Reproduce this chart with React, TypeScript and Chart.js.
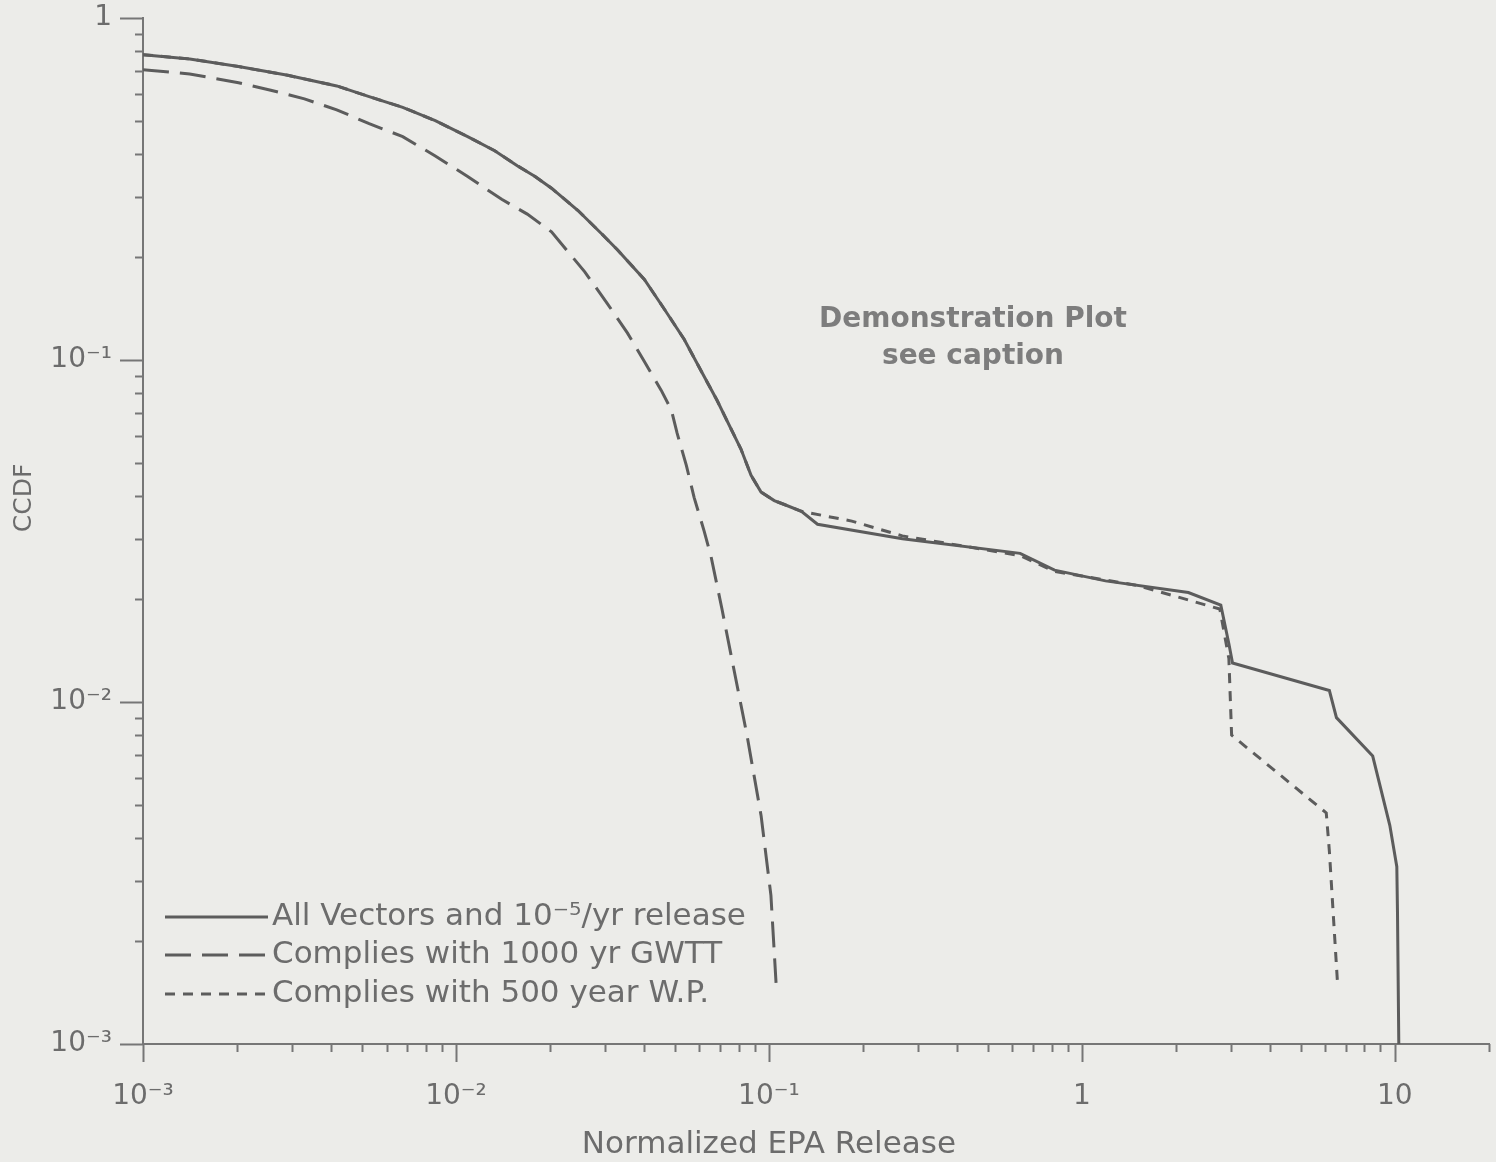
import React, { useEffect, useRef } from "react";
import { Chart, registerables } from "chart.js";

Chart.register(...registerables);

// ---- Data ----
const allVectorsX = [0.001, 0.00141, 0.00202, 0.0029, 0.00416, 0.00528, 0.00676, 0.00859, 0.0109, 0.0133, 0.0157, 0.0179, 0.0202, 0.0245, 0.0292, 0.0328, 0.04, 0.0463, 0.0536, 0.0607, 0.0682, 0.0814, 0.0877, 0.0944, 0.104, 0.112, 0.127, 0.143, 0.267, 0.635, 0.818, 1.19, 2.19, 2.78, 2.95, 3.03, 6.18, 6.51, 8.5, 9.64, 10.15, 10.2, 10.3];
const allVectorsY = [0.781, 0.759, 0.721, 0.68, 0.633, 0.589, 0.548, 0.501, 0.45, 0.409, 0.37, 0.344, 0.318, 0.274, 0.234, 0.21, 0.172, 0.141, 0.115, 0.093, 0.0764, 0.0549, 0.046, 0.0411, 0.0388, 0.0378, 0.0361, 0.0331, 0.03, 0.0272, 0.0243, 0.0226, 0.0209, 0.0192, 0.0148, 0.013, 0.0108, 0.009, 0.00695, 0.00436, 0.0033, 0.00243, 0.001];

const gwttX = [0.001, 0.00141, 0.00202, 0.00256, 0.00328, 0.00416, 0.00528, 0.00676, 0.00859, 0.0109, 0.014, 0.0169, 0.0202, 0.0258, 0.0305, 0.0353, 0.04, 0.0453, 0.0488, 0.0509, 0.0545, 0.0577, 0.0621, 0.0653, 0.0708, 0.0756, 0.0851, 0.0944, 0.1015, 0.1054];
const gwttY = [0.706, 0.686, 0.647, 0.615, 0.58, 0.539, 0.491, 0.45, 0.395, 0.344, 0.295, 0.267, 0.237, 0.181, 0.146, 0.12, 0.099, 0.0815, 0.0714, 0.0611, 0.0491, 0.0396, 0.0316, 0.0267, 0.0187, 0.0138, 0.008, 0.00466, 0.00272, 0.00151];

const wpX = [0.001, 0.00141, 0.00202, 0.0029, 0.00416, 0.00528, 0.00676, 0.00859, 0.0109, 0.0133, 0.0157, 0.0179, 0.0202, 0.0245, 0.0292, 0.0328, 0.04, 0.0463, 0.0536, 0.0607, 0.0682, 0.0814, 0.0877, 0.0944, 0.104, 0.112, 0.127, 0.184, 0.267, 0.635, 0.818, 1.51, 2.76, 2.95, 3.01, 6.04, 6.18, 6.56];
const wpY = [0.781, 0.759, 0.721, 0.68, 0.633, 0.589, 0.548, 0.501, 0.45, 0.409, 0.37, 0.344, 0.318, 0.274, 0.234, 0.21, 0.172, 0.141, 0.115, 0.093, 0.0764, 0.0549, 0.046, 0.0411, 0.0388, 0.0378, 0.0361, 0.0338, 0.0306, 0.0268, 0.0241, 0.0219, 0.0187, 0.0134, 0.008, 0.00474, 0.00366, 0.00151];

const seriesLabels = [
  "All Vectors and 10\u207B\u2075/yr release",
  "Complies with 1000 yr GWTT",
  "Complies with 500 year W.P.",
];

const xTickValues = [
  0.001, 0.002, 0.003, 0.004, 0.005, 0.006, 0.007, 0.008, 0.009,
  0.01, 0.02, 0.03, 0.04, 0.05, 0.06, 0.07, 0.08, 0.09,
  0.1, 0.2, 0.3, 0.4, 0.5, 0.6, 0.7, 0.8, 0.9,
  1, 2, 3, 4, 5, 6, 7, 8, 9,
  10, 20,
];
const xLabelValues = [0.001, 0.01, 0.1, 1, 10];
const xTickLabels = ["10\u207B\u00B3", "10\u207B\u00B2", "10\u207B\u00B9", "1", "10"];

const yTickValues = [
  0.001, 0.002, 0.003, 0.004, 0.005, 0.006, 0.007, 0.008, 0.009,
  0.01, 0.02, 0.03, 0.04, 0.05, 0.06, 0.07, 0.08, 0.09,
  0.1, 0.2, 0.3, 0.4, 0.5, 0.6, 0.7, 0.8, 0.9,
  1,
];
const yLabelValues = [0.001, 0.01, 0.1, 1];
const yTickLabels = ["10\u207B\u00B3", "10\u207B\u00B2", "10\u207B\u00B9", "1"];

const xTitle = "Normalized EPA Release";
const yTitle = "CCDF";
const noteLines = ["Demonstration Plot", "see caption"];

// ---- Styles ----
const BG = "#ecece9";
const LINE = "#5c5c5c";
const AXIS = "#767676";
const TEXT = "#6c6c6c";
const FONT = '"DejaVu Sans", "Liberation Sans", sans-serif';

const same = (a: number, b: number) => Math.abs(Math.log10(a) - Math.log10(b)) < 1e-6;
const labelIndex = (vals: number[], v: number) => vals.findIndex((m) => same(m, v));

const toPoints = (xs: number[], ys: number[]) => xs.map((x, i) => ({ x, y: ys[i] }));

const zeroPad = (scale: any) => {
  scale.paddingTop = 0;
  scale.paddingBottom = 0;
  scale.paddingLeft = 0;
  scale.paddingRight = 0;
};

const decorPlugin = {
  id: "decor",
  afterDraw(chart: any) {
    const ctx = chart.ctx as CanvasRenderingContext2D;
    const area = chart.chartArea;
    const xs = chart.scales.x;
    const ys = chart.scales.y;
    ctx.save();
    // tick marks
    ctx.strokeStyle = AXIS;
    ctx.lineWidth = 2;
    xTickValues.forEach((v) => {
      const px = Math.round(xs.getPixelForValue(v)) + 0.5;
      const major = labelIndex(xLabelValues, v) >= 0;
      ctx.beginPath();
      ctx.moveTo(px, area.bottom);
      ctx.lineTo(px, area.bottom + (major ? 18 : 8));
      ctx.stroke();
    });
    yTickValues.forEach((v) => {
      const py = Math.round(ys.getPixelForValue(v)) + 0.5;
      const major = labelIndex(yLabelValues, v) >= 0;
      ctx.beginPath();
      ctx.moveTo(area.left, py);
      ctx.lineTo(area.left - (major ? 23 : 8), py);
      ctx.stroke();
    });

    // axis titles
    ctx.fillStyle = TEXT;
    ctx.textAlign = "center";
    ctx.textBaseline = "middle";
    ctx.font = `31px ${FONT}`;
    ctx.fillText(xTitle, xs.getPixelForValue(0.1), area.bottom + 101);
    ctx.save();
    ctx.translate(24, area.top + 480);
    ctx.rotate(-Math.PI / 2);
    ctx.font = `25px ${FONT}`;
    ctx.fillText(yTitle, 0, 0);
    ctx.restore();

    // note
    ctx.font = `bold 28px ${FONT}`;
    ctx.fillStyle = "#7d7d7d";
    ctx.fillText(noteLines[0], area.left + 830, area.top + 302);
    ctx.fillText(noteLines[1], area.left + 830, area.top + 339);

    // legend
    const rows = [area.bottom - 127, area.bottom - 89, area.bottom - 50];
    ctx.textAlign = "left";
    ctx.font = `31px ${FONT}`;
    chart.data.datasets.forEach((ds: any, i: number) => {
      const y = rows[i];
      ctx.strokeStyle = LINE;
      ctx.lineWidth = 3;
      ctx.setLineDash(ds.borderDash || []);
      ctx.beginPath();
      ctx.moveTo(area.left + 22, y);
      ctx.lineTo(area.left + 125, y);
      ctx.stroke();
      ctx.setLineDash([]);
      ctx.fillStyle = TEXT;
      ctx.fillText(ds.label, area.left + 129, y);
    });
    ctx.restore();
  },
};

export default function App() {
  const ref = useRef<HTMLCanvasElement | null>(null);

  useEffect(() => {
    if (!ref.current) return;
    const chart = new Chart(ref.current, {
      type: "line",
      data: {
        datasets: [
          {
            label: seriesLabels[0],
            data: toPoints(allVectorsX, allVectorsY),
            borderColor: LINE,
            borderWidth: 3,
            pointRadius: 0,
            tension: 0,
            fill: false,
          },
          {
            label: seriesLabels[1],
            data: toPoints(gwttX, gwttY),
            borderColor: LINE,
            borderWidth: 3,
            borderDash: [26, 11],
            pointRadius: 0,
            tension: 0,
            fill: false,
          },
          {
            label: seriesLabels[2],
            data: toPoints(wpX, wpY),
            borderColor: LINE,
            borderWidth: 3,
            borderDash: [10, 8],
            pointRadius: 0,
            tension: 0,
            fill: false,
          },
        ],
      },
      options: {
        animation: false,
        responsive: true,
        maintainAspectRatio: false,
        layout: { padding: { top: 18, right: 7, left: 0, bottom: 0 } },
        plugins: { legend: { display: false }, tooltip: { enabled: false } },
        scales: {
          x: {
            type: "logarithmic",
            min: 0.001,
            max: 20,
            afterBuildTicks: (scale: any) => {
              scale.ticks = xTickValues.map((v) => ({ value: v }));
            },
            afterFit: (scale: any) => {
              scale.height = 118;
              zeroPad(scale);
            },
            grid: { drawOnChartArea: false, drawTicks: false },
            border: { display: true, color: AXIS, width: 2 },
            ticks: {
              autoSkip: false,
              maxRotation: 0,
              padding: 36,
              color: TEXT,
              font: { family: FONT, size: 28 },
              callback: (v: any) => {
                const i = labelIndex(xLabelValues, Number(v));
                return i >= 0 ? xTickLabels[i] : "";
              },
            },
          },
          y: {
            type: "logarithmic",
            min: 0.001,
            max: 1,
            afterBuildTicks: (scale: any) => {
              scale.ticks = yTickValues.map((v) => ({ value: v }));
            },
            afterFit: (scale: any) => {
              scale.width = 143;
              zeroPad(scale);
            },
            grid: { drawOnChartArea: false, drawTicks: false },
            border: { display: true, color: AXIS, width: 2 },
            ticks: {
              autoSkip: false,
              padding: 31,
              color: TEXT,
              font: { family: FONT, size: 28 },
              callback: (v: any) => {
                const i = labelIndex(yLabelValues, Number(v));
                return i >= 0 ? yTickLabels[i] : "";
              },
            },
          },
        },
      },
      plugins: [decorPlugin],
    } as any);
    return () => chart.destroy();
  }, []);

  return (
    <div
      style={{
        position: "fixed",
        left: 0,
        top: 0,
        width: 1496,
        height: 1162,
        background: BG,
      }}
    >
      <canvas ref={ref} />
    </div>
  );
}
